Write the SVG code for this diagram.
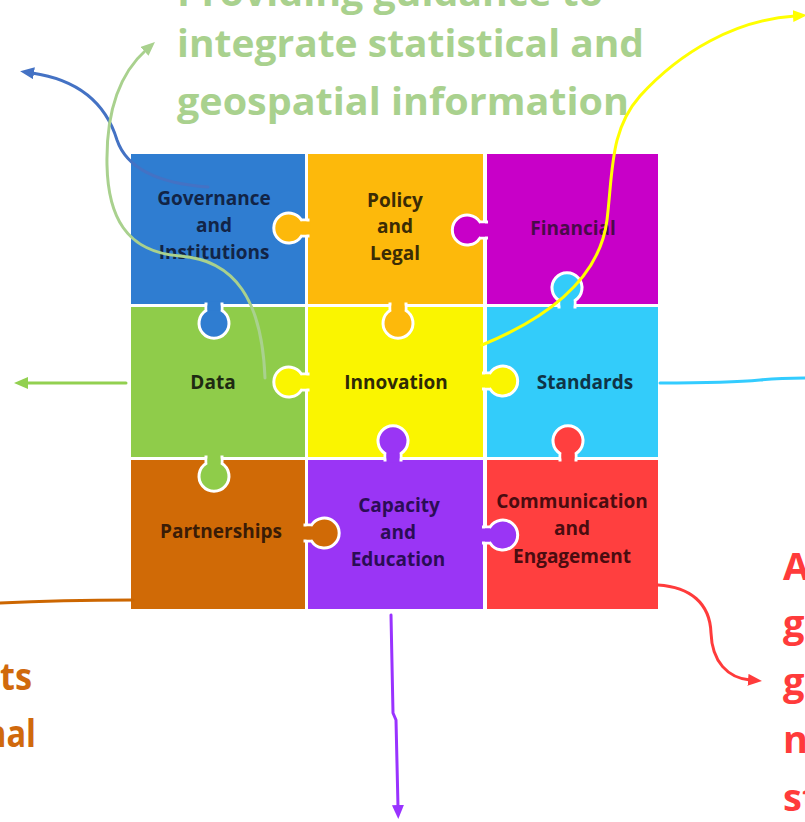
<svg xmlns="http://www.w3.org/2000/svg" xmlns:xlink="http://www.w3.org/1999/xlink" width="805" height="822" viewBox="0 0 805 822">
  <style>
    .lbl { font-family: "Open Sans", "Liberation Sans", sans-serif; font-weight: 700; font-size: 19px; text-anchor: middle; }
    .big { font-family: "Open Sans", "Liberation Sans", sans-serif; font-weight: 700; font-size: 38px; }
    .tab { stroke: #ffffff; stroke-width: 3; }
    .wire { fill: none; stroke-width: 3; stroke-linecap: round; stroke-linejoin: round; }
  </style>
  <defs>
    <!-- puzzle tab: neck + round knob, pointing along +x from the owner's edge -->
    <path id="knob" d="M-1.5,-8 L5,-8 A15,15 0 1,1 5,8 L-1.5,8 Z"/>
    <rect id="neck" x="-4" y="-6.5" width="9" height="13"/>
    <marker id="ah-blue" markerUnits="userSpaceOnUse" markerWidth="16" markerHeight="14" refX="2" refY="6" orient="auto"><path d="M0,0 L14,6 L0,12 Z" fill="#4472C4"/></marker>
    <marker id="ah-lgreen" markerUnits="userSpaceOnUse" markerWidth="16" markerHeight="14" refX="2" refY="6" orient="auto"><path d="M0,0 L14,6 L0,12 Z" fill="#A9D18E"/></marker>
    <marker id="ah-green" markerUnits="userSpaceOnUse" markerWidth="16" markerHeight="14" refX="2" refY="6" orient="auto"><path d="M0,0 L14,6 L0,12 Z" fill="#92D050"/></marker>
    <marker id="ah-yellow" markerUnits="userSpaceOnUse" markerWidth="16" markerHeight="14" refX="2" refY="6" orient="auto"><path d="M0,0 L14,6 L0,12 Z" fill="#FFFF00"/></marker>
    <marker id="ah-purple" markerUnits="userSpaceOnUse" markerWidth="16" markerHeight="14" refX="2" refY="6" orient="auto"><path d="M0,0 L14,6 L0,12 Z" fill="#9933FF"/></marker>
    <marker id="ah-red" markerUnits="userSpaceOnUse" markerWidth="16" markerHeight="14" refX="2" refY="6" orient="auto"><path d="M0,0 L14,6 L0,12 Z" fill="#FF3B3B"/></marker>
  </defs>

  <rect x="0" y="0" width="805" height="822" fill="#ffffff"/>

  <!-- headline and side captions -->
  <g id="captions">
    <text class="big" x="177" y="6" fill="#A9D18E" textLength="426" lengthAdjust="spacingAndGlyphs">Providing guidance to</text>
    <text class="big" x="177" y="57" fill="#A9D18E" textLength="467" lengthAdjust="spacingAndGlyphs">integrate statistical and</text>
    <text class="big" x="177" y="115" fill="#A9D18E" textLength="452" lengthAdjust="spacingAndGlyphs">geospatial information</text>
    <text class="big" x="0" y="690" fill="#D0690C" textLength="32" lengthAdjust="spacingAndGlyphs">ts</text>
    <text class="big" x="-15" y="747" fill="#D0690C" textLength="51" lengthAdjust="spacingAndGlyphs">nal</text>
    <text class="big" x="783" y="580" fill="#FF3B3B">A</text>
    <text class="big" x="783" y="637" fill="#FF3B3B">g</text>
    <text class="big" x="783" y="695" fill="#FF3B3B">g</text>
    <text class="big" x="783" y="753" fill="#FF3B3B">n</text>
    <text class="big" x="783" y="811" fill="#FF3B3B">st</text>
  </g>

  <!-- puzzle pieces -->
  <g id="governance">
    <rect x="131" y="154" width="174" height="150" fill="#2F7DD1"/>
    <text class="lbl" x="214" y="205" fill="#122446">Governance</text>
    <text class="lbl" x="214" y="232" fill="#122446">and</text>
    <text class="lbl" x="214" y="259" fill="#122446">Institutions</text>
  </g>
  <g id="policy">
    <rect x="308" y="154" width="175" height="150" fill="#FDB90B"/>
    <text class="lbl" x="395" y="207" fill="#3B2C05">Policy</text>
    <text class="lbl" x="395" y="233" fill="#3B2C05">and</text>
    <text class="lbl" x="395" y="260" fill="#3B2C05">Legal</text>
  </g>
  <g id="financial">
    <rect x="487" y="154" width="171" height="150" fill="#C800C8"/>
    <text class="lbl" x="573" y="235" fill="#4A0A4A">Financial</text>
  </g>
  <g id="data">
    <rect x="131" y="307" width="174" height="150" fill="#8FCC4A"/>
    <text class="lbl" x="213" y="389" fill="#1E2A12">Data</text>
  </g>
  <g id="innovation">
    <rect x="308" y="307" width="175" height="150" fill="#FAF500"/>
    <text class="lbl" x="396" y="389" fill="#2E2A06">Innovation</text>
  </g>
  <g id="standards">
    <rect x="487" y="307" width="171" height="150" fill="#33CCFA"/>
    <text class="lbl" x="585" y="389" fill="#0F3346">Standards</text>
  </g>
  <g id="partnerships">
    <rect x="131" y="460" width="174" height="149" fill="#D06A06"/>
    <text class="lbl" x="221" y="538" fill="#3A1C06">Partnerships</text>
  </g>
  <g id="capacity">
    <rect x="308" y="460" width="175" height="149" fill="#9A35F5"/>
    <text class="lbl" x="399" y="512" fill="#2B0D55">Capacity</text>
    <text class="lbl" x="398" y="539" fill="#2B0D55">and</text>
    <text class="lbl" x="398" y="566" fill="#2B0D55">Education</text>
  </g>
  <g id="communication">
    <rect x="487" y="460" width="171" height="149" fill="#FF3F3F"/>
    <text class="lbl" x="572" y="508" fill="#4A0C10">Communication</text>
    <text class="lbl" x="572" y="535" fill="#4A0C10">and</text>
    <text class="lbl" x="572" y="563" fill="#4A0C10">Engagement</text>
  </g>

  <!-- interlocking tabs -->
  <g id="tabs">
    <g transform="translate(306.5,228) rotate(180)" fill="#FDB90B"><use href="#knob" class="tab"/><use href="#neck"/></g>
    <g transform="translate(485,230) rotate(180)" fill="#C800C8"><use href="#knob" class="tab"/><use href="#neck"/></g>
    <g transform="translate(214,305.5) rotate(90)" fill="#2F7DD1"><use href="#knob" class="tab"/><use href="#neck"/></g>
    <g transform="translate(567,305.5) rotate(-90)" fill="#33CCFA"><use href="#knob" class="tab"/><use href="#neck"/></g>
    <g transform="translate(398,305.5) rotate(90)" fill="#FDB90B"><use href="#knob" class="tab"/><use href="#neck"/></g>
    <g transform="translate(306.5,382) rotate(180)" fill="#FAF500"><use href="#knob" class="tab"/><use href="#neck"/></g>
    <g transform="translate(485,381)" fill="#FAF500"><use href="#knob" class="tab"/><use href="#neck"/></g>
    <g transform="translate(393,458.5) rotate(-90)" fill="#9A35F5"><use href="#knob" class="tab"/><use href="#neck"/></g>
    <g transform="translate(214,458.5) rotate(90)" fill="#8FCC4A"><use href="#knob" class="tab"/><use href="#neck"/></g>
    <g transform="translate(568,458.5) rotate(-90)" fill="#FF3F3F"><use href="#knob" class="tab"/><use href="#neck"/></g>
    <g transform="translate(306.5,533)" fill="#D06A06"><use href="#knob" class="tab"/><use href="#neck"/></g>
    <g transform="translate(485,535)" fill="#9A35F5"><use href="#knob" class="tab"/><use href="#neck"/></g>
  </g>

  <!-- connectors -->
  <g id="connectors">
    <path class="wire" d="M208,187 C165,184 128,172 117,140 C106,104 80,80 32,73" stroke="#4472C4" marker-end="url(#ah-blue)"/>
    <path class="wire" d="M265,378 C262,300 235,260 180,256 C125,252 108,215 107,165 C106,115 118,75 146,50" stroke="#A9D18E" marker-end="url(#ah-lgreen)"/>
    <path class="wire" d="M126,383 L26,383" stroke="#92D050" marker-end="url(#ah-green)"/>
    <path class="wire" d="M482,345 C555,315 600,275 607,220 C613,170 610,130 640,96 C680,52 735,20 795,16" stroke="#FFFF00" stroke-width="3.5" marker-end="url(#ah-yellow)"/>
    <path class="wire" d="M660,383 C700,383 740,382 760,380 C780,378 795,378 806,378" stroke="#33CCFF"/>
    <path class="wire" d="M133,600 C90,600 40,601 -1,603" stroke="#CC6600"/>
    <path class="wire" d="M391,615 L393,713 L396,720 L398,807" stroke="#9933FF" marker-end="url(#ah-purple)"/>
    <path class="wire" d="M658,585 C690,587 710,603 711,633 C712,662 728,678 750,680" stroke="#FF3B3B" marker-end="url(#ah-red)"/>
  </g>
</svg>
